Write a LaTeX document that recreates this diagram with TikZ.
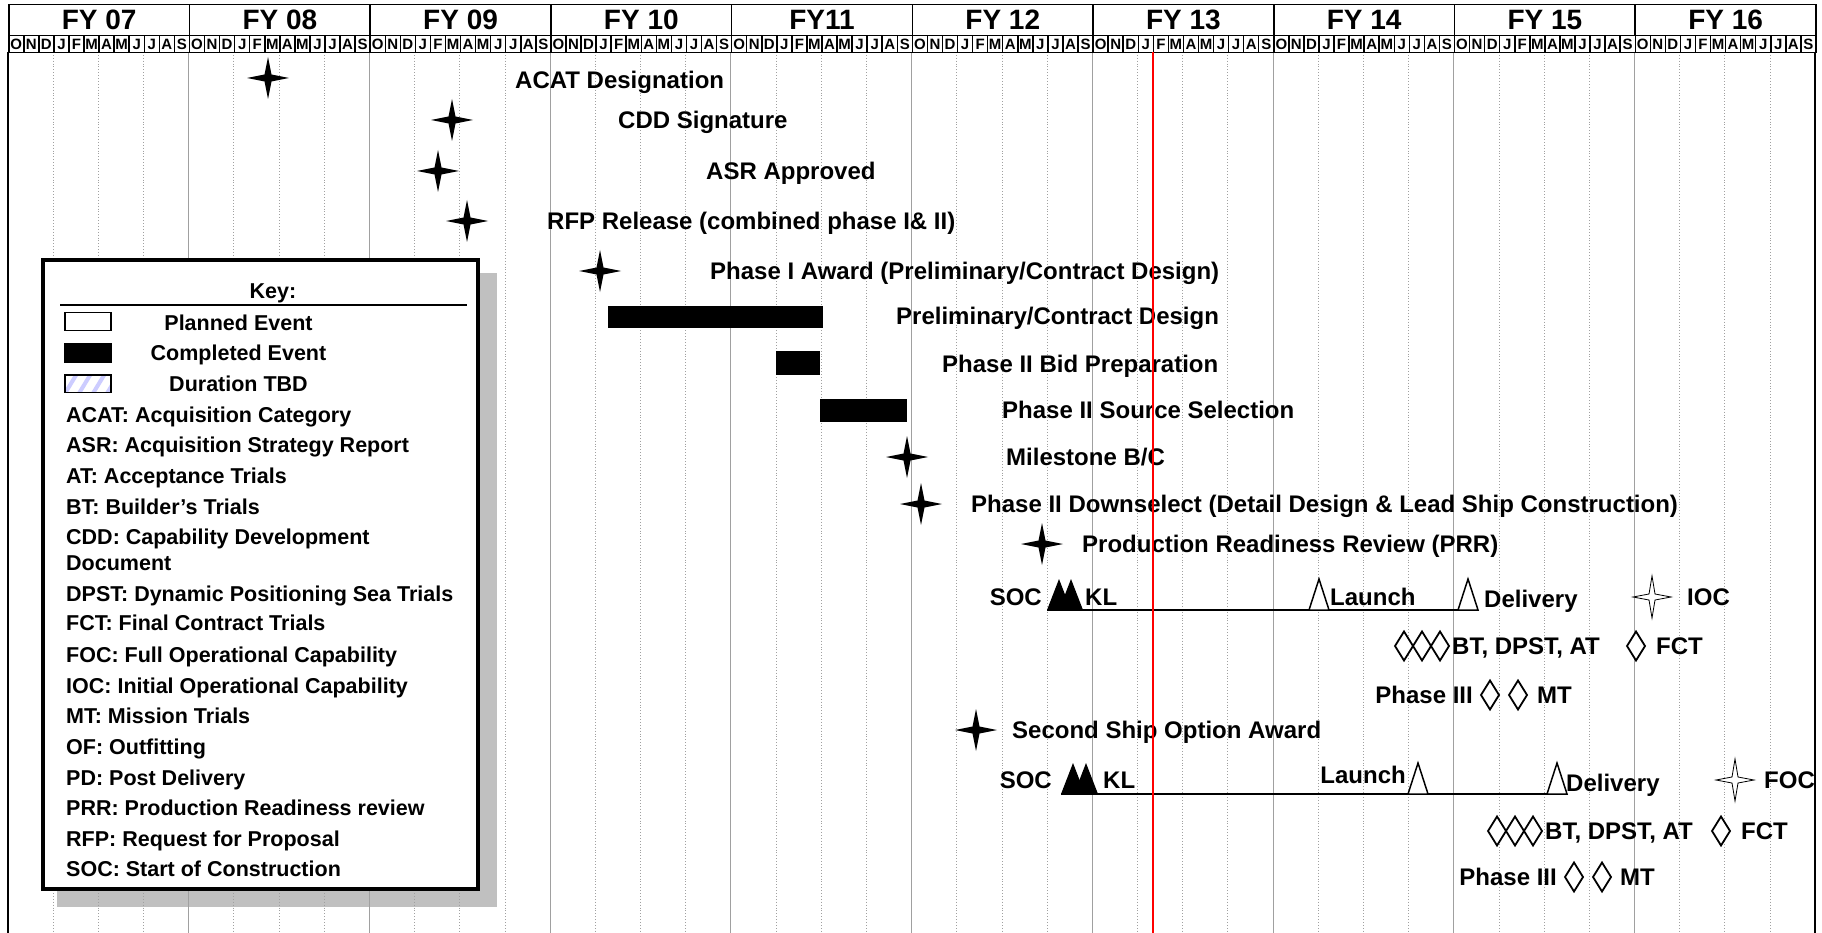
\documentclass[tikz,border=0pt]{standalone}
\usepackage{fontspec}
\setmainfont{Liberation Sans}
\usetikzlibrary{positioning}

\definecolor{keyshadow}{RGB}{192,192,192}
\definecolor{tbdblue}{RGB}{204,204,255}
\definecolor{gridgray}{RGB}{160,160,160}

\begin{document}
\begin{tikzpicture}[x=1pt, y=-1pt, every node/.style={font=\bfseries, inner sep=0pt},
    fullstar/.pic={\fill (0,-21) -- (3.5,-3.5) -- (21,0) -- (3.5,3.5) -- (0,21) -- (-3.5,3.5) -- (-21,0) -- (-3.5,-3.5) -- cycle;},
    openstar/.pic={\filldraw[fill=white, line width=0.8pt] (0,-21) -- (3,-3) -- (19,0) -- (3,3) -- (0,21) -- (-3,3) -- (-19,0) -- (-3,-3) -- cycle;},
    opendiamond/.pic={\filldraw[fill=white, line width=1.8pt] (0,-14.5) -- (9,0) -- (0,14.5) -- (-9,0) -- cycle;},
    fulltri/.pic={\fill (-12,0) -- (0,-31) -- (12,0) -- cycle;},
    opentri/.pic={\filldraw[fill=white, line width=1.5pt] (-10,0) -- (0,-31) -- (10,0) -- cycle;}]
  % Define styles
  \tikzstyle{fycell} = [rectangle, draw=black, line width=1.6pt, minimum width=180.7pt, minimum height=31pt, anchor=north west, font=\fontsize{28}{28}\selectfont\bfseries]
  \tikzstyle{monthcell} = [rectangle, draw=black, line width=1.5pt, minimum width=15.06pt, minimum height=16.8pt, anchor=north west, font=\fontsize{15}{15}\selectfont\bfseries]
  \tikzstyle{event} = [anchor=west, text height=17pt, text depth=0pt, font=\fontsize{24}{24}\selectfont\bfseries]
  \tikzstyle{eventl} = [event, anchor=east]
  \tikzstyle{keyline} = [anchor=west, text height=15.3pt, text depth=0pt, font=\fontsize{21.5}{21.5}\selectfont\bfseries]
  \tikzstyle{keyitem} = [keyline, anchor=center]
  \tikzstyle{fyline} = [draw=gridgray, line width=0.9pt]
  \tikzstyle{qline} = [draw=gridgray, line width=0.9pt, dotted]
  \tikzstyle{bar} = [fill=black]
  \tikzstyle{hull} = [line width=2.5pt]

  \useasboundingbox (0,0) rectangle (1822,933);

  % Shadow of the key
  \fill[keyshadow] (56.7,273) rectangle (497,906.7);

  % Grid
  \foreach \m in {3,6,...,117}
    \draw[qline] ({8+\m*15.06},52) -- ({8+\m*15.06},933);
  \foreach \m in {12,24,...,108}
    \draw[fyline] ({8+\m*15.06},52) -- ({8+\m*15.06},933);
  \draw[line width=2pt] (8,52) -- (8,933);
  \draw[line width=2.5pt] (1815,52) -- (1815,933);

  % Header
  \foreach \fy [count=\i from 0] in {FY 07,FY 08,FY 09,FY 10,FY11,FY 12,FY 13,FY 14,FY 15,FY 16}{
    \node[fycell] (fy\i) at ({8+\i*180.72},3.8) {\fy};
    \foreach \mo [count=\j from 0] in {O,N,D,J,F,M,A,M,J,J,A,S}
      \node[monthcell] (mo\i-\j) at ({8+(\i*12+\j)*15.06},34.8) {\mo};
  }

  % Key
  \draw[line width=4pt, fill=white] (43,260.5) rectangle (478,888.7);
  \node[keyitem] (keytitle) at (273,291) {Key:};
  \draw[line width=2.5pt] (60,305) -- (467,305);
  \draw[line width=1.5pt, fill=white] (65,312.5) rectangle (111,330.5);
  \node[keyitem] (planned) at (238.5,322.7) {Planned Event};
  \fill (64.3,342.7) rectangle (111.7,362.7);
  \node[keyitem] (completed) at (238.5,353) {Completed Event};
  \begin{scope}
    \clip (65,375) rectangle (111,392.5);
    \foreach \s in {0,14,...,70}
      \draw[tbdblue, line width=4pt] ({50+\s},395) -- ({64+\s},372);
  \end{scope}
  \draw[line width=1.5pt] (65,375) rectangle (111,392.5);
  \node[keyitem] (tbdlabel) at (238.5,384) {Duration TBD};
  \foreach \y/\txt [count=\k] in {415/ACAT: Acquisition Category, 445/ASR: Acquisition Strategy Report,
      476/AT: Acceptance Trials, 506.7/BT: Builder’s Trials, 536.7/CDD: Capability Development,
      562.7/Document, 594/DPST: Dynamic Positioning Sea Trials, 623.3/FCT: Final Contract Trials,
      655/FOC: Full Operational Capability, 685.7/IOC: Initial Operational Capability,
      716/MT: Mission Trials, 746.7/OF: Outfitting, 777.7/PD: Post Delivery,
      808.3/PRR: Production Readiness review, 839/RFP: Request for Proposal, 869.3/SOC: Start of Construction}
    \node[keyline] (key\k) at (66,\y) {\txt};

  % Milestones
  \pic at (268,78) {fullstar};
  \node[event] (acat) at (515,80) {ACAT Designation};
  \pic at (452,120) {fullstar};
  \node[event] (cdd) at (618,120) {CDD Signature};
  \pic at (438,171) {fullstar};
  \node[event] (asr) at (706,171) {ASR Approved};
  \pic at (467,221) {fullstar};
  \node[event] (rfp) at (547,221) {RFP Release (combined phase I\& II)};
  \pic at (600,271) {fullstar};
  \node[event] (award1) at (710,271) {Phase I Award (Preliminary/Contract Design)};

  % Completed bars
  \fill[bar] (608,306) rectangle (823,328);
  \node[event] (prelim) at (896,316) {Preliminary/Contract Design};
  \fill[bar] (776,351) rectangle (820,375);
  \node[event] (bidprep) at (942,364) {Phase II Bid Preparation};
  \fill[bar] (820,399) rectangle (907,422);
  \node[event] (source) at (1002,410) {Phase II Source Selection};

  \pic at (907,457) {fullstar};
  \node[event] (msbc) at (1006,457) {Milestone B/C};
  \pic at (921,504) {fullstar};
  \node[event] (downsel) at (971,504) {Phase II Downselect (Detail Design \& Lead Ship Construction)};
  \pic at (1042,544) {fullstar};
  \node[event] (prr) at (1082,544) {Production Readiness Review (PRR)};

  % Lead ship
  \coordinate (soc1) at (1047,610);
  \coordinate (del1) at (1478,610);
  \draw[hull] (soc1) -- (del1);
  \pic at (1059,610) {fulltri};
  \pic at (1071,610) {fulltri};
  \pic at (1319,610) {opentri};
  \pic at (1468,610) {opentri};
  \node[eventl] (soclab1) at (1042,597) {SOC};
  \node[event] (kl1) at (1085,597) {KL};
  \node[event] (launch1) at (1330,597) {Launch};
  \node[event] (deliv1) at (1484,599) {Delivery};
  \pic at (1652,597) {openstar};
  \node[event] (ioc) at (1687,597) {IOC};
  \foreach \x in {1404,1422,1440}
    \pic at (\x,646) {opendiamond};
  \node[event] (trials1) at (1452,646) {BT, DPST, AT};
  \pic at (1636,646) {opendiamond};
  \node[event] (fct1) at (1656,646) {FCT};
  \node[eventl] (phase3a) at (1473,695) {Phase III};
  \pic at (1490,695) {opendiamond};
  \pic at (1518,695) {opendiamond};
  \node[event] (mt1) at (1537,695) {MT};

  % Second ship
  \pic at (976,730) {fullstar};
  \node[event] (option) at (1012,730) {Second Ship Option Award};
  \coordinate (soc2) at (1061,794);
  \coordinate (del2) at (1567,794);
  \draw[hull] (soc2) -- (del2);
  \pic at (1073,794) {fulltri};
  \pic at (1086,794) {fulltri};
  \pic at (1418,794) {opentri};
  \pic at (1557,794) {opentri};
  \node[eventl] (soclab2) at (1052,780) {SOC};
  \node[event] (kl2) at (1103,780) {KL};
  \node[eventl] (launch2) at (1406,775) {Launch};
  \node[event] (deliv2) at (1566,783) {Delivery};
  \pic at (1735,780) {openstar};
  \node[event] (foc) at (1764,780) {FOC};
  \foreach \x in {1497,1515,1533}
    \pic at (\x,831) {opendiamond};
  \node[event] (trials2) at (1545,831) {BT, DPST, AT};
  \pic at (1721,831) {opendiamond};
  \node[event] (fct2) at (1741,831) {FCT};
  \node[eventl] (phase3b) at (1557,877) {Phase III};
  \pic at (1574,877) {opendiamond};
  \pic at (1602,877) {opendiamond};
  \node[event] (mt2) at (1620,877) {MT};

  % Today line
  \coordinate (nowtop) at (1153,52);
  \coordinate (nowbot) at (1153,933);
  \draw[red, line width=1.8pt] (nowtop) -- (nowbot);
\end{tikzpicture}
\end{document}
